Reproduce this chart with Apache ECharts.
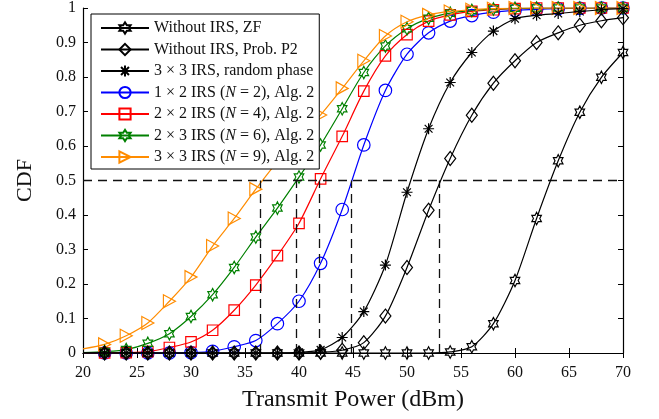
<!DOCTYPE html>
<html><head><meta charset="utf-8">
<script src="https://cdn.jsdelivr.net/npm/echarts@6/dist/echarts.min.js"></script>
<style>html,body{margin:0;padding:0;background:#fff}#c{width:659px;height:419px}</style>
</head><body><div id="c"></div>
<script>
// Transmit power (dBm); first point (20) carries no marker
const xPower = [20,22,24,26,28,30,32,34,36,38,40,42,44,46,48,50,52,54,56,58,60,62,64,66,68,70];
const zfNoIRS   = [0, 0,0,0,0,0,0,0,0,0,0,0,0,0,0,0,0, 0.003,0.018,0.085,0.21,0.39,0.557,0.698,0.799,0.871];
const p2NoIRS   = [0, 0,0,0,0,0,0,0,0,0,0, 0.002,0.008,0.03,0.107,0.248,0.414,0.564,0.689,0.782,0.847,0.9,0.928,0.95,0.963,0.972];
const randPhase = [0, 0,0,0,0,0,0,0,0,0, 0.002,0.009,0.045,0.12,0.255,0.466,0.65,0.784,0.871,0.933,0.969,0.979,0.984,0.99,0.995,0.998];
const irs1x2    = [0, 0,0,0,0,0.001, 0.005,0.018,0.036,0.085,0.15,0.26,0.416,0.603,0.761,0.866,0.928,0.962,0.978,0.988,0.993,0.996,0.998,0.999,1,1];
const irs2x2    = [0, 0,0.001,0.004,0.016,0.032,0.066,0.124,0.197,0.282,0.376,0.505,0.628,0.759,0.861,0.923,0.962,0.98,0.99,0.995,0.998,1,1,1,1,1];
const irs2x3    = [0.001, 0.004,0.01,0.028,0.056,0.106,0.169,0.248,0.336,0.42,0.51,0.603,0.708,0.813,0.89,0.94,0.97,0.985,0.993,0.997,0.999,1,1,1,1,1];
const irs3x3    = [0.012, 0.025,0.05,0.087,0.15,0.22,0.31,0.39,0.475,0.555,0.625,0.69,0.767,0.847,0.919,0.96,0.98,0.99,0.995,0.998,1,1,1,1,1,1];
const seriesNames = [
  'Without IRS, ZF',
  'Without IRS, Prob. P2',
  '3 × 3 IRS, random phase',
  '1 × 2 IRS (N = 2), Alg. 2',
  '2 × 2 IRS (N = 4), Alg. 2',
  '2 × 3 IRS (N = 6), Alg. 2',
  '3 × 3 IRS (N = 9), Alg. 2'
];
const thresholdX = [36.4, 39.7, 41.9, 44.8, 53.0];
const thresholdY = 0.5;
const xTicks = {min: 20, max: 70, interval: 5};
const yTicks = {min: 0, max: 1, interval: 0.1};

const FONT = 'Liberation Serif';
const HEX = 'path://M0,-1L0.289,-0.5L0.866,-0.5L0.577,0L0.866,0.5L0.289,0.5L0,1L-0.289,0.5L-0.866,0.5L-0.577,0L-0.866,-0.5L-0.289,-0.5Z';
const AST = 'path://M0,-1L0,1M-1,0L1,0M-0.71,-0.71L0.71,0.71M-0.71,0.71L0.71,-0.71';
const TRI = 'path://M0,0L1,0.5L0,1Z';

function mk(name, vals, color, symbol, size, z) {
  return {
    name: name, type: 'line', z: z,
    showAllSymbol: true,
    smooth: 0.25,
    symbol: symbol, symbolSize: size, symbolKeepAspect: true,
    data: xPower.map((x, i) => i === 0 ? {value: [x, vals[i]], symbol: 'none'} : [x, vals[i]]),
    lineStyle: {color: color, width: 1.2},
    itemStyle: {color: 'rgba(255,255,255,0)', borderColor: color, borderWidth: 1.2},
    emphasis: {disabled: true}
  };
}

const series = [
  mk(seriesNames[0], zfNoIRS, '#000', HEX, [11, 12.5], 5),
  mk(seriesNames[1], p2NoIRS, '#000', 'diamond', [11, 14], 5),
  mk(seriesNames[2], randPhase, '#000', AST, 11, 5),
  mk(seriesNames[3], irs1x2, '#0000ff', 'circle', 12.5, 3),
  mk(seriesNames[4], irs2x2, '#ff0000', 'rect', 10.5, 3),
  mk(seriesNames[5], irs2x3, '#008000', HEX, [11, 12.5], 3),
  mk(seriesNames[6], irs3x3, '#ff8c00', TRI, [12, 13], 3),
  {
    name: 'ref', type: 'line', data: [], z: 1,
    markLine: {
      silent: true, symbol: 'none', animation: false,
      label: {show: false},
      lineStyle: {type: [9, 6], color: '#111', width: 1.3},
      data: [{yAxis: thresholdY}].concat(thresholdX.map(x => [{coord: [x, 0]}, {coord: [x, thresholdY]}]))
    }
  }
];

const axisLine = {show: true, lineStyle: {color: '#000', width: 1.2}};
const axisTick = {show: true, inside: true, length: 5, lineStyle: {color: '#000', width: 1}};
const labelStyle = {fontFamily: FONT, fontSize: 16, color: '#111'};

const chart = echarts.init(document.getElementById('c'), null, {renderer: 'canvas'});
chart.setOption({
  animation: false,
  backgroundColor: '#fff',
  grid: {left: 83, right: 36, top: 5, bottom: 66},
  xAxis: [
    Object.assign({type: 'value', position: 'bottom', axisLine, axisTick, splitLine: {show: false},
      axisLabel: Object.assign({margin: 12}, labelStyle),
      name: 'Transmit Power (dBm)', nameLocation: 'middle', nameGap: 35,
      nameTextStyle: {fontFamily: FONT, fontSize: 24, color: '#111'}}, xTicks),
    Object.assign({type: 'value', position: 'top', axisLine, axisTick, splitLine: {show: false},
      axisLabel: {show: false}}, xTicks)
  ],
  yAxis: [
    Object.assign({type: 'value', position: 'left', axisLine, axisTick, splitLine: {show: false},
      axisLabel: Object.assign({margin: 7, formatter: v => (v === 0 || v === 1) ? String(v) : v.toFixed(1)}, labelStyle),
      name: 'CDF', nameLocation: 'middle', nameGap: 47, nameRotate: 90,
      nameTextStyle: {fontFamily: FONT, fontSize: 22, color: '#111'}}, yTicks),
    Object.assign({type: 'value', position: 'right', axisLine, axisTick, splitLine: {show: false},
      axisLabel: {show: false}}, yTicks)
  ],
  legend: {
    data: seriesNames,
    orient: 'vertical', left: 91, top: 14,
    itemWidth: 48, itemHeight: 14, itemGap: 5.5,
    padding: [6, 5, 4, 9],
    borderColor: '#000', borderWidth: 1, backgroundColor: '#fff',
    selectedMode: false,
    formatter: n => n.replace('(N =', '({i|N} ='),
    textStyle: {fontFamily: FONT, fontSize: 16, color: '#111',
      rich: {i: {fontFamily: FONT, fontSize: 16, fontStyle: 'italic', color: '#111'}}}
  },
  series: series
});
</script>
</body></html>
